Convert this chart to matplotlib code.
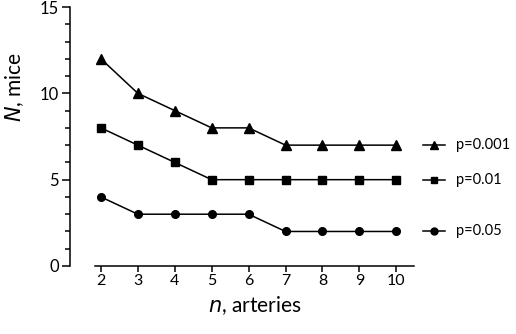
import matplotlib
matplotlib.use("Agg")
import matplotlib.pyplot as plt
from matplotlib.ticker import MultipleLocator

plt.rcParams['font.family'] = ['Lato', 'DejaVu Sans']

arteries = [2, 3, 4, 5, 6, 7, 8, 9, 10]
mice_p001 = [12, 10, 9, 8, 8, 7, 7, 7, 7]
mice_p01 = [8, 7, 6, 5, 5, 5, 5, 5, 5]
mice_p05 = [4, 3, 3, 3, 3, 2, 2, 2, 2]
labels = ['p=0.001', 'p=0.01', 'p=0.05']
markers = ['^', 's', 'o']
msizes = [6.5, 5.5, 5.5]

fig = plt.figure(figsize=(5.16, 3.34), dpi=100)
ax = fig.add_axes([0.1841, 0.2036, 0.6182, 0.7754])

for ys, lab, mk, ms in zip([mice_p001, mice_p01, mice_p05], labels, markers, msizes):
    ax.plot(arteries, ys, color='black', lw=1.1, marker=mk, ms=ms, clip_on=False)
    # legend entry placed beside the last point of each series
    x0 = arteries[-1]
    ax.plot([x0 + 0.73, x0 + 1.33], [ys[-1], ys[-1]], color='black', lw=1.1, clip_on=False)
    ax.plot([x0 + 1.03], [ys[-1]], color='black', marker=mk, ms=ms - 0.5, clip_on=False)
    ax.text(x0 + 1.62, ys[-1], lab, fontsize=10.5, va='center', ha='left')

ax.set_xlim(1.84, 10.48)
ax.set_ylim(0, 15)
ax.set_xticks(arteries)
ax.yaxis.set_major_locator(MultipleLocator(5))
ax.yaxis.set_minor_locator(MultipleLocator(1))

for s in ['top', 'right']:
    ax.spines[s].set_visible(False)
ax.spines['left'].set_position(('outward', 18))
ax.spines['left'].set_linewidth(1.1)
ax.spines['bottom'].set_linewidth(1.1)

ax.tick_params(axis='y', which='major', length=6, width=1.1, labelsize=12, pad=2)
ax.tick_params(axis='y', which='minor', length=3.5, width=1.1)
ax.tick_params(axis='x', which='major', length=4, width=1.1, labelsize=11.5, pad=2)

ax.set_xlabel(r'$\it{n}$, arteries', fontsize=15)
ax.set_ylabel(r'$\it{N}$, mice', fontsize=15)
ax.yaxis.set_label_coords(-0.215, 0.69)

fig.savefig('out.png', dpi=100)
